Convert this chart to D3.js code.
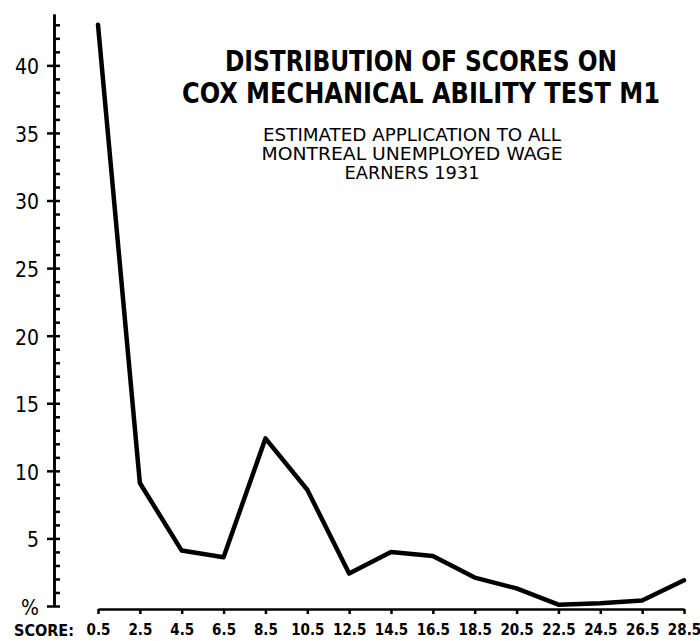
<!DOCTYPE html>
<html>
<head>
<meta charset="utf-8">
<script src="https://cdn.jsdelivr.net/npm/d3@7"></script>
<style>
  body { margin: 0; background: #fff; }
  text { fill: #000; font-family: "DejaVu Sans Condensed", "DejaVu Sans", sans-serif; }
  .axis path, .axis line { stroke: #000; stroke-width: 2.5px; }
  .axis text { font-size: 21px; }
  .axis--x text { font-size: 15px; font-weight: bold; }
  .title { font-weight: bold; font-size: 28px; }
  .subtitle { font-size: 17px; }
</style>
</head>
<body>
<div id="chart"></div>
<script>
var scores = [0.5, 2.5, 4.5, 6.5, 8.5, 10.5, 12.5, 14.5, 16.5, 18.5, 20.5, 22.5, 24.5, 26.5, 28.5];
var percents = [43.0, 9.1, 4.1, 3.6, 12.4, 8.6, 2.4, 4.0, 3.7, 2.1, 1.3, 0.1, 0.2, 0.4, 1.9];
var yMajorTicks = [0, 5, 10, 15, 20, 25, 30, 35, 40];
var yMinorTicks = d3.range(0, 44);
var titleLines = ["DISTRIBUTION  OF SCORES ON", "COX MECHANICAL  ABILITY TEST M1"];
var subtitleLines = ["ESTIMATED APPLICATION  TO ALL", "MONTREAL UNEMPLOYED WAGE", "EARNERS 1931"];

var imgWidth = 700,
    imgHeight = 641;

var svg = d3.select("#chart").append("svg")
    .attr("width", imgWidth + "px")
    .attr("height", imgHeight + "px");

var x = d3.scaleLinear().domain([0.5, 28.5]).range([98, 684]),
    y = d3.scaleLinear().domain([0, 43.8]).range([606, 14]);

// y axis: major ticks both sides, minor ticks on the right
svg.append("g")
    .attr("class", "axis axis--y")
    .attr("transform", "translate(54,0)")
    .call(d3.axisLeft(y).tickValues(yMajorTicks).tickSize(7).tickSizeOuter(0).tickPadding(8)
        .tickFormat(function(d) { return d === 0 ? "%" : d; }));

svg.append("g")
    .attr("class", "axis axis--minor")
    .attr("transform", "translate(54,0)")
    .call(d3.axisRight(y).tickValues(yMinorTicks).tickSize(6).tickSizeOuter(0).tickFormat(""));

svg.selectAll(".axis--y .tick text").attr("dy", "0.4em");

// x axis
svg.append("g")
    .attr("class", "axis axis--x")
    .attr("transform", "translate(0,609)")
    .call(d3.axisBottom(x).tickValues(scores).tickSize(5).tickSizeOuter(0).tickPadding(10)
        .tickFormat(function(d) { return d3.format(".1f")(d); }));

svg.append("text")
    .attr("x", 14)
    .attr("y", 636)
    .attr("textLength", 60)
    .attr("lengthAdjust", "spacingAndGlyphs")
    .style("font-size", "15px")
    .style("font-weight", "bold")
    .text("SCORE:");

var line = d3.line()
    .x(function(d, i) { return x(scores[i]); })
    .y(function(d) { return y(d); });

svg.append("path")
    .datum(percents)
    .attr("fill", "none")
    .attr("stroke", "#000")
    .attr("stroke-width", 4.5)
    .attr("stroke-linejoin", "round")
    .attr("stroke-linecap", "round")
    .attr("d", line);

svg.selectAll(".title")
    .data(titleLines)
    .enter().append("text")
    .attr("class", "title")
    .attr("x", 421)
    .attr("y", function(d, i) { return 71 + i * 32; })
    .attr("text-anchor", "middle")
    .attr("textLength", function(d, i) { return i === 0 ? 392 : 478; })
    .attr("lengthAdjust", "spacingAndGlyphs")
    .text(function(d) { return d; });

svg.selectAll(".subtitle")
    .data(subtitleLines)
    .enter().append("text")
    .attr("class", "subtitle")
    .attr("x", 412)
    .attr("y", function(d, i) { return 141 + i * 19; })
    .attr("text-anchor", "middle")
    .attr("textLength", function(d, i) { return [298, 301, 135][i]; })
    .attr("lengthAdjust", "spacingAndGlyphs")
    .text(function(d) { return d; });
</script>
</body>
</html>
